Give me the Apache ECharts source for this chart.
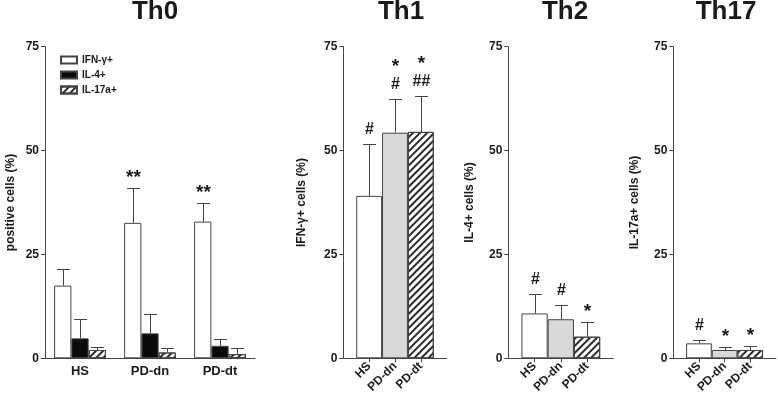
<!DOCTYPE html>
<html><head><meta charset="utf-8">
<script src="https://cdn.jsdelivr.net/npm/echarts@6/dist/echarts.min.js"></script>
<style>html,body{margin:0;padding:0;background:#fff}#c{width:778px;height:400px}</style>
</head><body><div id="c"></div>
<script>
// ---- data ----
const groups = ['HS', 'PD-dn', 'PD-dt'];
const th0Series = ['IFN-γ+', 'IL-4+', 'IL-17a+'];
const th0Ifn = [17.5, 32.6, 32.9];
const th0IfnErr = [4.0, 8.3, 4.6];
const th0IfnMarks = ['', '**', '**'];
const th0Il4 = [4.8, 6.0, 3.0];
const th0Il4Err = [4.7, 4.6, 1.6];
const th0Il17 = [2.0, 1.4, 1.0];
const th0Il17Err = [0.6, 1.0, 1.4];
const th1Vals = [39.1, 54.3, 54.5];
const th1Err = [12.6, 8.0, 8.7];
const th1Marks = ['#', '*\n#', '*\n##'];
const th2Vals = [10.8, 9.4, 5.2];
const th2Err = [4.7, 3.4, 3.6];
const th2Marks = ['#', '#', '*'];
const th17Vals = [3.6, 2.0, 2.0];
const th17Err = [0.8, 0.6, 1.0];
const th17Marks = ['#', '*', '*'];
const panelTitles = ['Th0', 'Th1', 'Th2', 'Th17'];
const yTicks = [0, 25, 50, 75];
const yNames = ['positive cells (%)', 'IFN-γ+ cells (%)', 'IL-4+ cells (%)', 'IL-17a+ cells (%)'];

// ---- styles ----
const FF = '"Liberation Sans", Arial, sans-serif';
const AX = '#444';
const TXT = '#1a1a1a';
const hatch = { symbol: 'rect', symbolSize: 1, dashArrayX: [1, 0], dashArrayY: [2, 3], rotation: -Math.PI / 4, color: '#2a2a2a' };
const groupStyles = [
  { color: '#ffffff', borderColor: AX, borderWidth: 1 },
  { color: '#d9d9d9', borderColor: AX, borderWidth: 1 },
  { color: '#ffffff', borderColor: AX, borderWidth: 1, decal: hatch }
];
const th0Styles = [
  { color: '#ffffff', borderColor: AX, borderWidth: 1 },
  { color: '#0a0a0a', borderColor: AX, borderWidth: 1 },
  { color: '#ffffff', borderColor: AX, borderWidth: 1, decal: hatch }
];
const grids = [
  { left: 45, top: 46.7, width: 210, height: 311.6 },
  { left: 343.3, top: 46.7, width: 103.4, height: 311.6 },
  { left: 508.3, top: 46.7, width: 105, height: 311.6 },
  { left: 673.3, top: 46.7, width: 103.4, height: 311.6 }
];
const titleCenters = [150, 396, 560, 721];
const nameGaps = [28, 36, 33, 33];
const TH0_GAP = 0.26;

function errRender(means, errs, marks, idx, n, cap) {
  return function (params, api) {
    const i = params.dataIndex;
    const cat = api.value(0);
    const p0 = api.coord([cat, means[i]]);
    const p1 = api.coord([cat, means[i] + errs[i]]);
    let dx = 0;
    if (n > 1) {
      const bw = api.size([1, 0])[0];
      const w = bw * (1 - TH0_GAP) / n;
      dx = (idx - (n - 1) / 2) * w;
    }
    const x = Math.round(p0[0] + dx) + 0.5;
    const yt = Math.round(p1[1]) + 0.5;
    const children = [
      { type: 'line', shape: { x1: x, y1: p0[1], x2: x, y2: yt }, style: { stroke: AX, lineWidth: 1 } },
      { type: 'line', shape: { x1: x - cap / 2, y1: yt, x2: x + cap / 2, y2: yt }, style: { stroke: AX, lineWidth: 1 } }
    ];
    const m = marks ? marks[i] : '';
    if (m) {
      m.split('\n').reverse().forEach((line, k) => {
        const star = /^\*+$/.test(line);
        const fs = star ? 19 : 16;
        children.push({ type: 'text', style: {
          text: line, x: x, y: yt - 15 - 22 * k + (star ? 4.4 : 0.5),
          align: 'center', verticalAlign: 'middle', font: 'bold ' + fs + 'px ' + FF, fill: TXT
        } });
      });
    }
    return { type: 'group', children: children };
  };
}

const yAxes = grids.map((g, k) => ({
  type: 'value', gridIndex: k, min: yTicks[0], max: yTicks[yTicks.length - 1], interval: yTicks[1] - yTicks[0],
  name: yNames[k], nameLocation: 'middle', nameGap: nameGaps[k],
  nameTextStyle: { fontFamily: FF, fontWeight: 'bold', fontSize: 12, color: TXT },
  axisLine: { show: true, lineStyle: { color: AX, width: 1 } },
  axisTick: { show: true, length: 4, lineStyle: { color: AX } },
  axisLabel: { fontFamily: FF, fontWeight: 'bold', fontSize: 12, color: TXT, margin: 6 },
  splitLine: { show: false }
}));

const padCats = [''].concat(groups, ['']);
const xAxes = [
  {
    type: 'category', gridIndex: 0, data: groups,
    axisLine: { lineStyle: { color: AX } },
    axisTick: { alignWithLabel: true, length: 4, lineStyle: { color: AX } },
    axisLabel: { fontFamily: FF, fontWeight: 'bold', fontSize: 13, color: TXT, margin: 7 }
  }
].concat([1, 2, 3].map(k => ({
  type: 'category', gridIndex: k, data: padCats, boundaryGap: false,
  axisLine: { lineStyle: { color: AX } },
  axisTick: { length: 4, lineStyle: { color: AX }, interval: (i) => i >= 1 && i <= groups.length },
  axisLabel: { fontFamily: FF, fontWeight: 'bold', fontSize: 12, color: TXT, rotate: 45, margin: 6, interval: 0 }
})));

const series = [];
const th0Means = [th0Ifn, th0Il4, th0Il17];
const th0Errs = [th0IfnErr, th0Il4Err, th0Il17Err];
const th0Marks = [th0IfnMarks, null, null];
th0Series.forEach((name, s) => {
  series.push({
    type: 'bar', name: name, xAxisIndex: 0, yAxisIndex: 0,
    data: th0Means[s], barGap: '0%', barCategoryGap: (TH0_GAP * 100) + '%',
    itemStyle: th0Styles[s], emphasis: { disabled: true }
  });
});
th0Series.forEach((name, s) => {
  series.push({
    type: 'custom', xAxisIndex: 0, yAxisIndex: 0, z: 5, clip: false,
    data: groups.map((g, i) => [i, th0Means[s][i] + th0Errs[s][i]]),
    renderItem: errRender(th0Means[s], th0Errs[s], th0Marks[s], s, 3, 13)
  });
});
const pVals = [th1Vals, th2Vals, th17Vals];
const pErrs = [th1Err, th2Err, th17Err];
const pMarks = [th1Marks, th2Marks, th17Marks];
[1, 2, 3].forEach((k, j) => {
  series.push({
    type: 'bar', xAxisIndex: k, yAxisIndex: k, barWidth: '100%',
    data: groups.map((g, i) => ({ value: [g, pVals[j][i]], itemStyle: groupStyles[i] })),
    emphasis: { disabled: true }
  });
  series.push({
    type: 'custom', xAxisIndex: k, yAxisIndex: k, z: 5, clip: false,
    data: groups.map((g, i) => [g, pVals[j][i] + pErrs[j][i]]),
    renderItem: errRender(pVals[j], pErrs[j], pMarks[j], 0, 1, 13)
  });
});

const option = {
  backgroundColor: '#fff',
  animation: false,
  textStyle: { fontFamily: FF },
  title: panelTitles.map((t, k) => ({
    text: t, left: titleCenters[k], top: -6, textAlign: 'center',
    textStyle: { fontFamily: FF, fontWeight: 'bold', fontSize: 26, color: TXT }
  })),
  legend: {
    data: th0Series, orient: 'vertical', left: 60, top: 54, padding: 0,
    icon: 'rect', itemWidth: 16, itemHeight: 7, itemGap: 3,
    textStyle: { fontFamily: FF, fontWeight: 'bold', fontSize: 10, color: TXT, lineHeight: 12 }
  },
  grid: grids,
  xAxis: xAxes,
  yAxis: yAxes,
  series: series
};
const chart = echarts.init(document.getElementById('c'), null, { renderer: 'canvas' });
chart.setOption(option);
</script>
</body></html>
